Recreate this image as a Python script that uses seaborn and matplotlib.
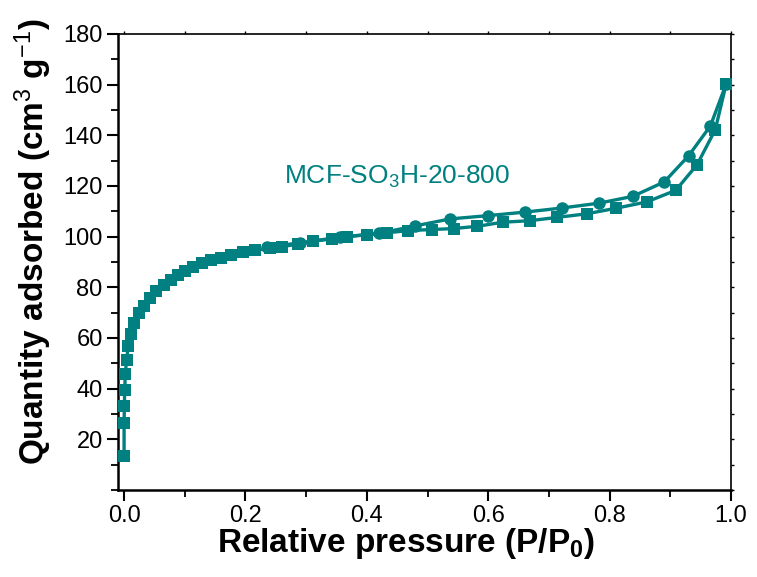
import matplotlib
matplotlib.use("Agg")
import matplotlib.pyplot as plt
from matplotlib.ticker import MultipleLocator
import seaborn as sns
import pandas as pd

# N2 isotherm of MCF-SO3H-20-800
ads_p = [0.0, 0.0, 0.0005, 0.001, 0.002, 0.004, 0.007, 0.011, 0.016, 0.024,
         0.033, 0.043, 0.053, 0.065, 0.077, 0.089, 0.101, 0.113, 0.128, 0.144,
         0.160, 0.176, 0.196, 0.216, 0.240, 0.260, 0.287, 0.312, 0.342, 0.367,
         0.400, 0.433, 0.468, 0.507, 0.543, 0.582, 0.624, 0.669, 0.713, 0.762,
         0.810, 0.861, 0.909, 0.944, 0.974, 0.992]
ads_q = [13.4, 26.6, 33.1, 39.4, 45.6, 51.3, 56.8, 61.7, 66.0, 69.7,
         72.8, 75.9, 78.7, 80.8, 82.8, 84.8, 86.6, 88.1, 89.5, 90.7,
         91.7, 92.8, 93.8, 94.6, 95.4, 96.1, 97.0, 98.2, 99.1, 99.9,
         100.8, 101.5, 102.4, 102.8, 103.2, 104.1, 105.7, 106.3, 107.6, 109.0,
         111.2, 113.7, 118.3, 128.4, 142.2, 160.3]

des_p = [0.992, 0.966, 0.930, 0.890, 0.838, 0.782, 0.721, 0.661, 0.600, 0.537,
         0.479, 0.420, 0.356, 0.290, 0.235]
des_q = [160.3, 143.7, 131.9, 121.6, 115.9, 113.2, 111.3, 109.7, 108.3, 107.0,
         104.2, 101.3, 99.8, 97.6, 95.8]

x_ticks = [0.0, 0.2, 0.4, 0.6, 0.8, 1.0]
y_ticks = [20, 40, 60, 80, 100, 120, 140, 160, 180]

teal = "#008080"

sns.set_style("ticks")
plt.rcParams["font.family"] = ["Liberation Sans", "DejaVu Sans"]
plt.rcParams["mathtext.fontset"] = "custom"
plt.rcParams["mathtext.rm"] = "Liberation Sans"
plt.rcParams["mathtext.bf"] = "Liberation Sans:bold"
plt.rcParams["mathtext.it"] = "Liberation Sans"
for key in ["text.color", "axes.labelcolor", "xtick.color", "ytick.color", "axes.edgecolor"]:
    plt.rcParams[key] = "black"

fig = plt.figure(figsize=(7.57, 5.77), dpi=100)
ax = fig.add_axes([0.1559, 0.1508, 0.8098, 0.7903])

ads = pd.DataFrame({"p": ads_p, "q": ads_q})
des = pd.DataFrame({"p": des_p, "q": des_q})

sns.lineplot(data=des, x="p", y="q", sort=False, estimator=None, ax=ax,
             color=teal, lw=2.4, marker="o", markersize=9, markeredgewidth=0,
             zorder=3)
sns.lineplot(data=ads, x="p", y="q", sort=False, estimator=None, ax=ax,
             color=teal, lw=2.4, marker="s", markersize=8.5, markeredgewidth=0,
             zorder=4)

ax.set_xlim(-0.01, 1.0)
ax.set_ylim(0, 180)
ax.set_xticks(x_ticks)
ax.set_xticklabels([f"{v:.1f}" for v in x_ticks])
ax.set_yticks(y_ticks)
ax.set_yticklabels([str(v) for v in y_ticks])
ax.xaxis.set_minor_locator(MultipleLocator(0.1))
ax.yaxis.set_minor_locator(MultipleLocator(10))

for name, s in ax.spines.items():
    s.set_visible(True)
    s.set_color("black")
    s.set_linewidth(1.8 if name in ("left", "bottom") else 1.2)

ax.tick_params(axis="both", which="major", direction="out", length=8, width=1.5,
               labelsize=17, pad=3)
ax.tick_params(axis="both", which="minor", direction="out", length=5, width=1.3)
ax.tick_params(which="both", top=True, right=True, labeltop=False, labelright=False)

# barely visible ticks on the mirrored axes
for t in ax.xaxis.get_major_ticks() + ax.xaxis.get_minor_ticks():
    t.tick2line.set_markersize(2)
    t.tick2line.set_markeredgewidth(1.0)
for t in ax.yaxis.get_major_ticks() + ax.yaxis.get_minor_ticks():
    t.tick2line.set_markersize(2)
    t.tick2line.set_markeredgewidth(1.0)

ax.set_xlabel(r"Relative pressure (P/P$_\mathbf{0}$)", fontsize=24, fontweight="bold")
ax.set_ylabel(r"Quantity adsorbed (cm$^3$ g$^{-1}$)", fontsize=24, fontweight="bold")
ax.xaxis.set_label_coords(0.47, -0.078)
ax.yaxis.set_label_coords(-0.105, 0.545)

ax.text(0.263, 123.5, r"MCF-SO$_3$H-20-800", color=teal, fontsize=19,
        ha="left", va="center")

fig.savefig("out.png", dpi=100)
